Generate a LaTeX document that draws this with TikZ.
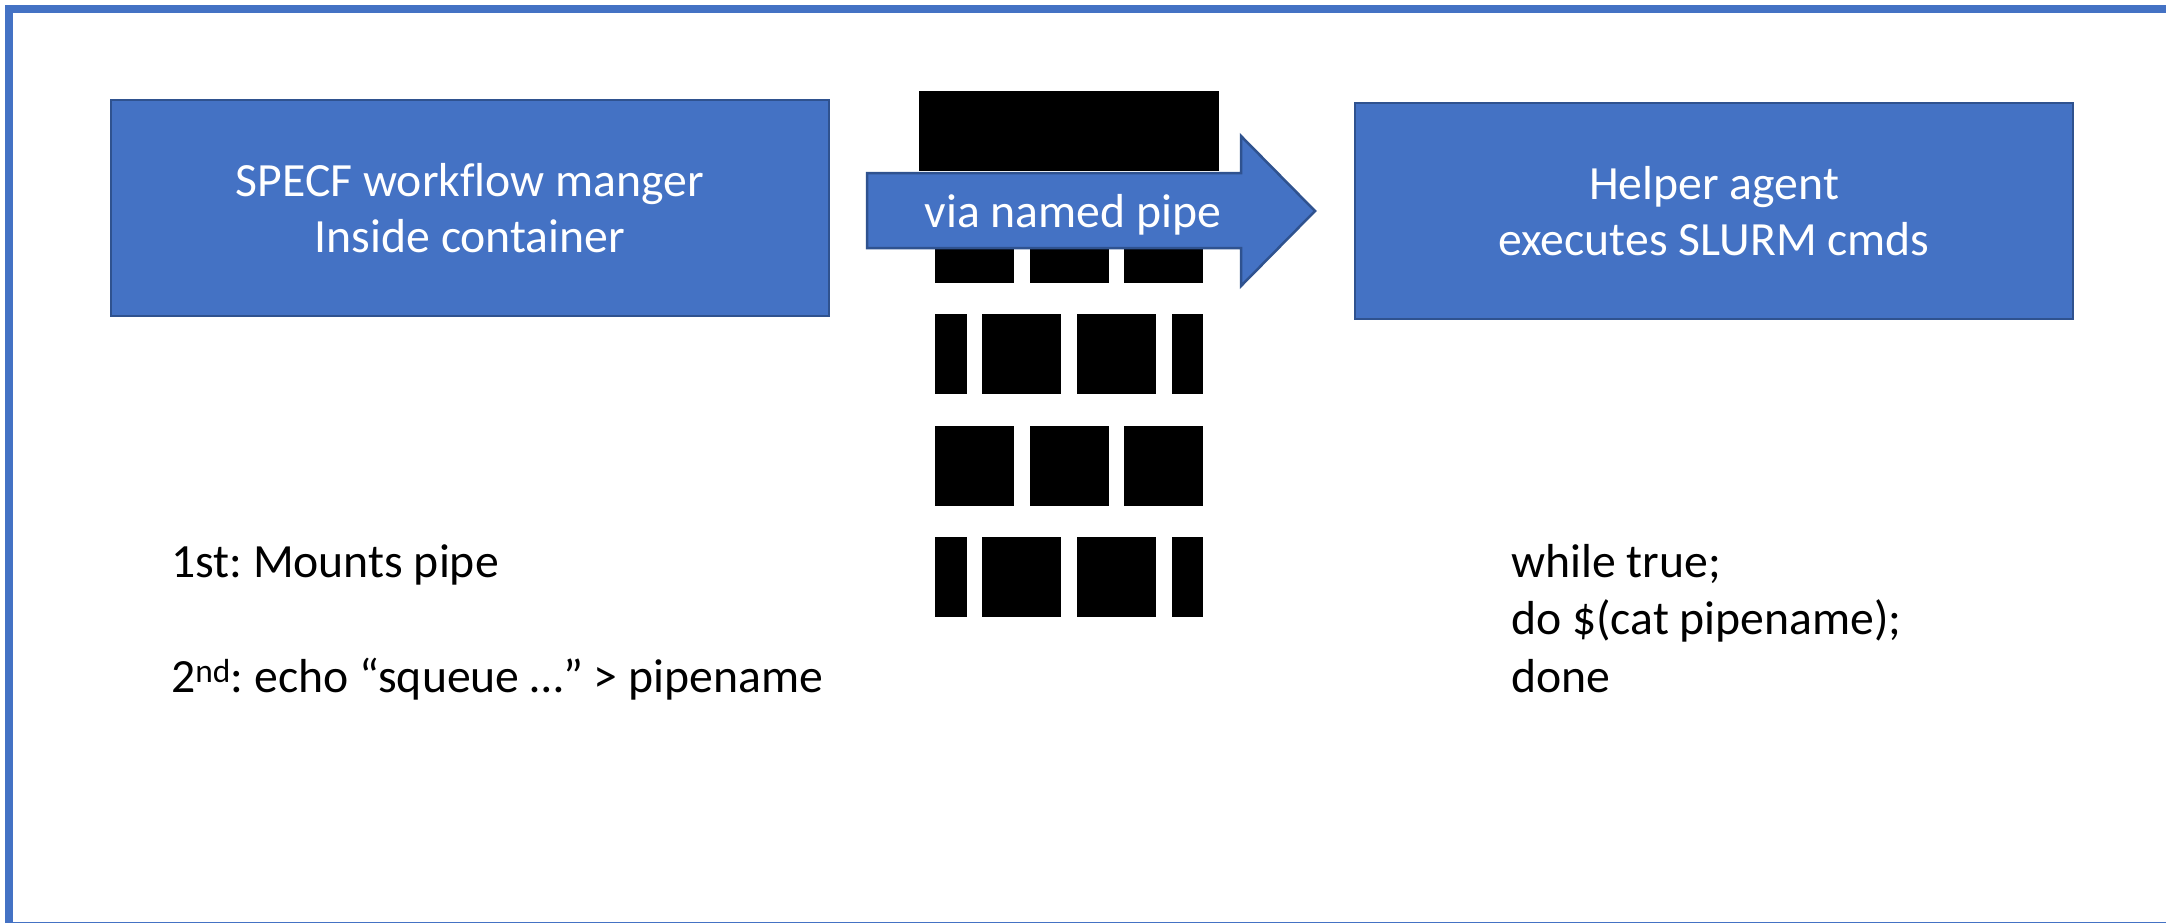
\documentclass[tikz,border=0pt]{standalone}
\usepackage{fontspec}
\setmainfont{Carlito}[Ligatures={TeX,NoCommon}]
\definecolor{fillblue}{HTML}{4472C4}
\definecolor{edgeblue}{HTML}{2F528F}
\tikzset{x=1pt,y=-1pt,
 bluebox/.style={draw=edgeblue,fill=fillblue,line width=2.5pt,inner sep=0pt,minimum width=718pt,minimum height=216pt},
 boxtext/.style={text=white,anchor=base,inner sep=0pt,font=\fontsize{47.7}{56}\selectfont},
 plain/.style={font=\fontsize{47.7}{57.5}\selectfont,anchor=base west,inner sep=0pt},
 brick/.style={fill=black}}
\newcommand{\brick}[4]{\fill[brick] (#1,#2) rectangle (#3,#4);}
\newcommand{\ctrlines}[1]{\parbox[t]{700pt}{\centering #1}}
\newcommand{\leftlines}[1]{\parbox[t]{520pt}{\raggedright #1}}
\begin{document}
\frenchspacing
\begin{tikzpicture}
\useasboundingbox (0,0) rectangle (2166,923);
\fill[white] (0,0) rectangle (2166,923);
\draw[fillblue,line width=8pt] (9,9) rectangle (2175,926);
\brick{919}{91}{1219}{171}
\foreach \a/\b in {935/1014,1030/1109,1124/1203}{
 \brick{\a}{241}{\b}{283}
 \brick{\a}{426}{\b}{506}}
\foreach \a/\b in {935/967,982/1061,1077/1156,1172/1203}{
 \brick{\a}{314}{\b}{394}
 \brick{\a}{537}{\b}{617}}
\node[bluebox] (mgr) at (470,208) {};
\node[boxtext] (mgrtext) at (470,196) {\ctrlines{SPECF workflow manger\\Inside container}};
\node[bluebox] (agent) at (1714,211) {};
\node[boxtext] (agenttext) at (1714,199) {\ctrlines{Helper agent\\executes SLURM cmds}};
\draw[edgeblue,fill=fillblue,line width=2.5pt] (867,173) -- (1241,173) -- (1241,136) -- (1315,211) -- (1241,286) -- (1241,248) -- (867,248) -- cycle;
\node[boxtext] (pipe) at (1073,227) {via named pipe};
\node[plain] (first) at (171,577) {1st: Mounts pipe};
\node[plain] (second) at (171,692) {2\textsuperscript{nd}: echo “squeue …” > pipename};
\node[plain] (loop) at (1511,577) {\leftlines{while true;\\do \$(cat pipename);\\done}};
\end{tikzpicture}
\end{document}
